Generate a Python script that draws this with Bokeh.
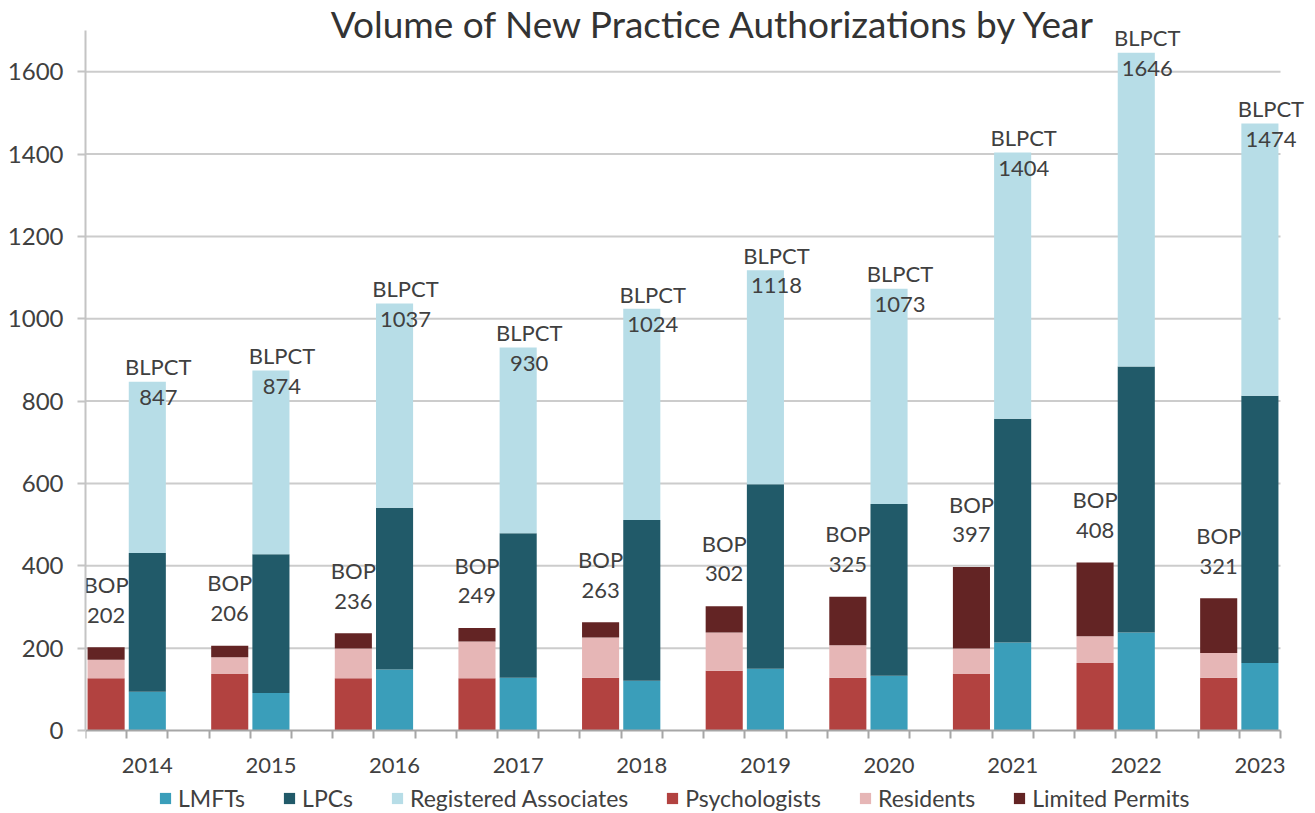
from bokeh.plotting import figure
from bokeh.models import (ColumnDataSource, FixedTicker, Legend, LegendItem, Label)
from bokeh.core.properties import value
from bokeh.embed import file_html
from bokeh.resources import INLINE

# ---------------- data ----------------
years = ["2014", "2015", "2016", "2017", "2018", "2019", "2020", "2021", "2022", "2023"]

# BOP components
psychologists = [127, 137, 127, 127, 128, 145, 128, 137, 164, 128]
residents = [45, 41, 72, 89, 98, 93, 79, 62, 65, 60]
limited_permits = [30, 28, 37, 33, 37, 64, 118, 198, 179, 133]

# BLPCT components
lmfts = [94, 91, 148, 128, 121, 150, 133, 214, 238, 164]
lpcs = [337, 337, 393, 351, 390, 448, 417, 543, 646, 649]
registered_associates = [416, 446, 496, 451, 513, 520, 523, 647, 762, 661]

y_ticks = [0, 200, 400, 600, 800, 1000, 1200, 1400, 1600]

# ---------------- styles / layout ----------------
FONT = "Lato"
C_LMFT = "#3A9EBA"
C_LPC = "#215A69"
C_RA = "#B7DDE7"
C_PSY = "#B24240"
C_RES = "#E6B6B6"
C_LP = "#632424"
TXT = "#404040"

FIG_W, FIG_H = 1312, 812
LEFT, RIGHT_AXIS, TOP_AXIS, BOTTOM_AXIS = 85, 1280, 30, 730
Y_AXIS_MAX = 1700

n = len(years)
n_slots = 3 * n - 1
slot_px = (RIGHT_AXIS - LEFT) / n_slots
x_end = n_slots + (FIG_W - RIGHT_AXIS) / slot_px
unit_px = (BOTTOM_AXIS - TOP_AXIS) / Y_AXIS_MAX
y_end = Y_AXIS_MAX + TOP_AXIS / unit_px
y_start = -(FIG_H - BOTTOM_AXIS) / unit_px

bop_x = [3 * i + 0.5 for i in range(n)]
blpct_x = [3 * i + 1.5 for i in range(n)]
bop_tot = [a + b + c for a, b, c in zip(psychologists, residents, limited_permits)]
blpct_tot = [a + b + c for a, b, c in zip(lmfts, lpcs, registered_associates)]

bop_src = ColumnDataSource(dict(x=bop_x, psy=psychologists, res=residents, lp=limited_permits,
                                tot=bop_tot, lab=[f"BOP\n{t}" for t in bop_tot]))
bl_src = ColumnDataSource(dict(x=blpct_x, lmft=lmfts, lpc=lpcs, ra=registered_associates,
                               tot=blpct_tot, lab=[f"BLPCT\n{t}" for t in blpct_tot]))

p = figure(width=FIG_W, height=FIG_H, x_range=(0, x_end), y_range=(y_start, y_end),
           output_backend="svg", toolbar_location=None,
           min_border_left=LEFT, min_border_right=0, min_border_top=0,
           min_border_bottom=0)
p.outline_line_color = None
p.background_fill_color = "white"
p.border_fill_color = "white"
p.xgrid.visible = False
p.ygrid.visible = False

# gridlines (limited to the axis span)
grid_y = [t for t in y_ticks if t > 0]
p.segment(x0=[0] * len(grid_y), x1=[n_slots] * len(grid_y), y0=grid_y, y1=grid_y,
          line_color="#CCCCCC", line_width=2)

W = 0.9
r_bop = p.vbar_stack(["psy", "res", "lp"], x="x", width=W, source=bop_src,
                     color=[C_PSY, C_RES, C_LP], line_color=None)
r_bl = p.vbar_stack(["lmft", "lpc", "ra"], x="x", width=W, source=bl_src,
                    color=[C_LMFT, C_LPC, C_RA], line_color=None)

# data labels
p.text(x="x", y="tot", text="lab", source=bop_src, text_font=value(FONT),
       text_font_size="22px", text_color=TXT, text_align="center",
       text_baseline="middle", text_line_height=1.1, y_offset=-48)
p.text(x="x", y="tot", text="lab", source=bl_src, text_font=value(FONT),
       text_font_size="22px", text_color=TXT, text_align="center",
       text_baseline="middle", text_line_height=1.1, x_offset=11)

# title
p.add_layout(Label(x=15.26, y=1717, text="Volume of New Practice Authorizations by Year",
                   text_font=FONT, text_font_size="37px", text_color="#333333",
                   text_align="center", text_baseline="middle"))

# y axis
ya = p.yaxis[0]
ya.ticker = FixedTicker(ticks=y_ticks, minor_ticks=[])
ya.bounds = (0, Y_AXIS_MAX)
ya.axis_line_color = "#C4C4C4"
ya.axis_line_width = 2
ya.major_tick_line_color = "#C4C4C4"
ya.major_tick_line_width = 2
ya.major_tick_out = 8
ya.major_tick_in = 0
ya.minor_tick_line_color = None
ya.major_label_standoff = 14
ya.major_label_text_font = FONT
ya.major_label_text_font_size = "24px"
ya.major_label_text_color = TXT

# x axis (drawn at y = 0 inside the frame)
xa = p.xaxis[0]
centers = [3 * i + 1.5 for i in range(n)]
xa.ticker = FixedTicker(ticks=centers, minor_ticks=list(range(n_slots + 1)))
xa.bounds = (0, n_slots)
xa.fixed_location = 0
xa.major_label_overrides = {c: y for c, y in zip(centers, years)}
xa.axis_line_color = "#A6A6A6"
xa.axis_line_width = 2
xa.major_tick_line_color = None
xa.major_tick_out = 0
xa.major_tick_in = 0
xa.minor_tick_line_color = "#A6A6A6"
xa.minor_tick_line_width = 2
xa.minor_tick_out = 8
xa.minor_tick_in = 0
xa.major_label_standoff = 19
xa.major_label_text_font = FONT
xa.major_label_text_font_size = "22px"
xa.major_label_text_color = TXT

legend = Legend(items=[
    LegendItem(label="LMFTs", renderers=[r_bl[0]]),
    LegendItem(label="LPCs", renderers=[r_bl[1]]),
    LegendItem(label="Registered Associates", renderers=[r_bl[2]]),
    LegendItem(label="Psychologists", renderers=[r_bop[0]]),
    LegendItem(label="Residents", renderers=[r_bop[1]]),
    LegendItem(label="Limited Permits", renderers=[r_bop[2]]),
], orientation="horizontal", location=(73, 0))
legend.glyph_width = 14
legend.glyph_height = 14
legend.label_standoff = 6
legend.spacing = 37
legend.padding = 0
legend.margin = 0
legend.label_text_font = FONT
legend.label_text_font_size = "23px"
legend.label_text_color = TXT
legend.border_line_color = None
legend.background_fill_alpha = 0
p.add_layout(legend, "center")

open("out.html", "w").write(file_html(p, INLINE))
